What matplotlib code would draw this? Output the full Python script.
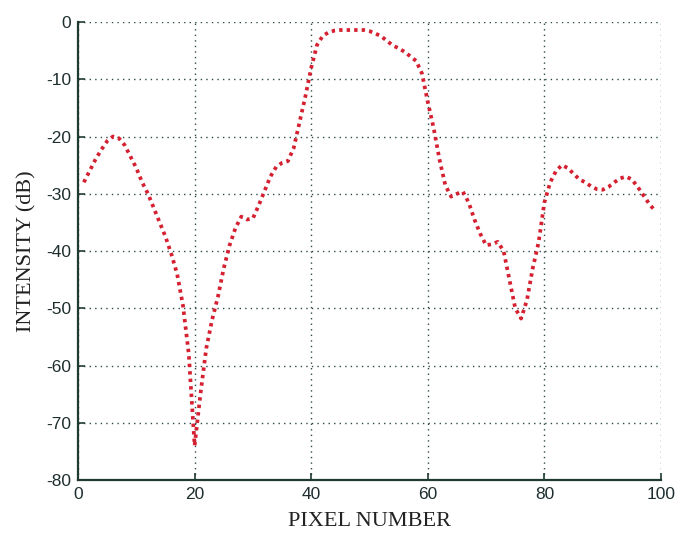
import matplotlib
matplotlib.use("Agg")
import matplotlib.pyplot as plt

plt.rcParams["axes.unicode_minus"] = False

pixel = list(range(1, 100))
intensity = [
    -28.0, -26.0, -24.0, -22.3, -20.8, -20.0, -20.3, -21.5, -23.5, -25.5,   # 1-10
    -28.0, -30.0, -32.5, -35.0, -37.5, -40.5, -44.0, -49.5, -58.0, -74.0,   # 11-20
    -65.0, -57.0, -52.0, -48.0, -43.0, -39.0, -36.0, -34.0, -34.5, -34.3,   # 21-30
    -32.0, -29.5, -27.0, -25.3, -24.6, -24.3, -22.0, -17.5, -13.0, -8.0,    # 31-40
    -4.0, -2.4, -1.8, -1.5, -1.4, -1.4, -1.4, -1.4, -1.4, -1.6,             # 41-50
    -2.0, -2.5, -3.3, -4.1, -4.6, -5.2, -6.0, -6.8, -9.0, -14.0,            # 51-60
    -18.5, -24.0, -28.5, -30.5, -30.0, -29.6, -31.5, -34.5, -37.0, -39.0,   # 61-70
    -38.8, -38.4, -40.0, -45.0, -50.0, -51.8, -48.6, -43.0, -38.5, -31.5,   # 71-80
    -28.0, -26.0, -25.0, -25.5, -26.5, -27.5, -28.0, -28.7, -29.2, -29.3,   # 81-90
    -28.8, -28.0, -27.3, -27.0, -27.5, -28.8, -30.3, -31.8, -33.0,          # 91-99
]
xticks = [0, 20, 40, 60, 80, 100]
yticks = [0, -10, -20, -30, -40, -50, -60, -70, -80]

fig = plt.figure(figsize=(6.91, 5.34), dpi=100)
ax = fig.add_axes([0.1129, 0.1011, 0.8437, 0.8577])

ax.plot(pixel, intensity, color="#d42030", linewidth=2.7,
        linestyle=(0, (0.9, 1.1)), zorder=3)

ax.set_xlim(0, 100)
ax.set_ylim(-80, 0)
ax.set_xticks(xticks)
ax.set_yticks(yticks)
ax.grid(True, linestyle=(0, (1, 3)), color="#2d4a48", linewidth=1.0)
for s in ["top", "right"]:
    ax.spines[s].set_visible(False)
for s in ["left", "bottom"]:
    ax.spines[s].set_color("#1f3a32")
    ax.spines[s].set_linewidth(1.6)

ax.tick_params(direction="in", length=5, width=1.2, color="#1f3a32",
               labelsize=12.5, labelcolor="#1e2e2e", pad=5)
for lab in ax.get_xticklabels() + ax.get_yticklabels():
    lab.set_fontfamily("Liberation Sans")

ax.set_xlabel("PIXEL NUMBER", fontfamily="Liberation Serif", fontsize=16,
              color="#222222", labelpad=7)
ax.set_ylabel("INTENSITY (dB)", fontfamily="Liberation Serif", fontsize=16,
              color="#222222", labelpad=7)

fig.savefig("out.png", dpi=100, facecolor="white")
